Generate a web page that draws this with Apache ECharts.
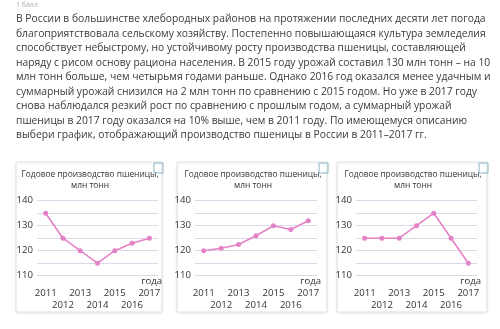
<!DOCTYPE html>
<html><head><meta charset="utf-8">
<script src="https://cdn.jsdelivr.net/npm/echarts@6/dist/echarts.min.js"></script>
<style>html,body{margin:0;padding:0;background:#fff}#c{width:500px;height:329px}</style>
</head><body><div id="c"></div>
<script>
var years = ['2011','2012','2013','2014','2015','2016','2017'];
var chartA = [135, 125, 120, 115, 120, 123, 125];
var chartB = [120, 121, 122.5, 126, 130, 128.5, 132];
var chartC = [125, 125, 125, 130, 135, 125, 115];
var yLabels = [110, 120, 130, 140];
var paragraph = [
 'В России в большинстве хлебородных районов на протяжении последних десяти лет погода',
 'благоприятствовала сельскому хозяйству. Постепенно повышающаяся культура земледелия',
 'способствует небыстрому, но устойчивому росту производства пшеницы, составляющей',
 'наряду с рисом основу рациона населения. В 2015 году урожай составил 130 млн тонн – на 10',
 'млн тонн больше, чем четырьмя годами раньше. Однако 2016 год оказался менее удачным и',
 'суммарный урожай снизился на 2 млн тонн по сравнению с 2015 годом. Но уже в 2017 году',
 'снова наблюдался резкий рост по сравнению с прошлым годом, а суммарный урожай',
 'пшеницы в 2017 году оказался на 10% выше, чем в 2011 году. По имеющемуся описанию',
 'выбери график, отображающий производство пшеницы в России в 2011–2017 гг.'
];
var FONT = '"Open Sans", "Noto Sans", sans-serif';
var boxes = [{x:16,w:146},{x:177,w:150},{x:337,w:150}];
var grids = [{left:37,width:121},{left:195,width:122},{left:356,width:121}];
var datas = [chartA, chartB, chartC];
var LINE = '#e383c6';

var graphic = [];
graphic.push({type:'text', left:16, top:1, style:{text:'1 балл', font:'7px '+FONT, fill:'#aaa'}});
paragraph.forEach(function(t,i){
  graphic.push({type:'text', left:16, top:14.5+i*14.45, style:{text:t, font:'10.3px '+FONT, fill:'#3a3a3a'}});
});
boxes.forEach(function(b){
  graphic.push({type:'rect', shape:{x:b.x, y:162, width:b.w, height:150}, style:{fill:'#fff', stroke:'#e2e2e2', lineWidth:1, shadowBlur:3, shadowColor:'rgba(0,0,0,0.08)', shadowOffsetY:1}, z:-10});
  graphic.push({type:'rect', shape:{x:b.x+b.w-8, y:163, width:9, height:10}, style:{fill:'rgba(255,255,255,0)', stroke:'#8ab8cc', lineWidth:1}, z:10});
  graphic.push({type:'text', x:b.x+b.w/2+1, y:169.5, style:{text:'Годовое производство пшеницы,\nмлн тонн', font:'8.4px '+FONT, fill:'#333', textAlign:'center', lineHeight:11}, z:5});
});

var option = {
  animation:false,
  graphic: graphic,
  grid: grids.map(function(g){ return {left:g.left, width:g.width, top:200.7, height:75}; }),
  xAxis: grids.map(function(g,i){ return {
    type:'category', gridIndex:i, data:years, boundaryGap:true,
    axisLine:{show:false}, axisTick:{show:false},
    name:'года', nameLocation:'end', nameGap:4,
    nameTextStyle:{align:'right', verticalAlign:'top', fontSize:9.6, fontFamily:FONT, color:'#333', padding:[1,0,0,0]},
    axisLabel:{interval:0, margin:12, fontSize:9.6, fontFamily:FONT, color:'#333', lineHeight:12,
      formatter:function(v,idx){ return idx%2 ? '\n'+v : v; }}
  }; }),
  yAxis: grids.map(function(g,i){ return {
    type:'value', gridIndex:i, min:110, max:140, interval:5,
    axisLine:{show:false}, axisTick:{show:false},
    splitLine:{lineStyle:{color:'#dcd8e8', width:1}},
    axisLabel:{margin:4, fontSize:9.6, fontFamily:FONT, color:'#333',
      formatter:function(v){ return yLabels.indexOf(v) >= 0 ? String(v) : ''; }}
  }; }),
  series: datas.map(function(d,i){ return {
    type:'line', xAxisIndex:i, yAxisIndex:i, data:d,
    symbol:'circle', symbolSize:5, lineStyle:{color:LINE, width:1.6}, itemStyle:{color:LINE}
  }; })
};
var chart = echarts.init(document.getElementById('c'), null, {renderer:'canvas'});
chart.setOption(option);
</script></body></html>
